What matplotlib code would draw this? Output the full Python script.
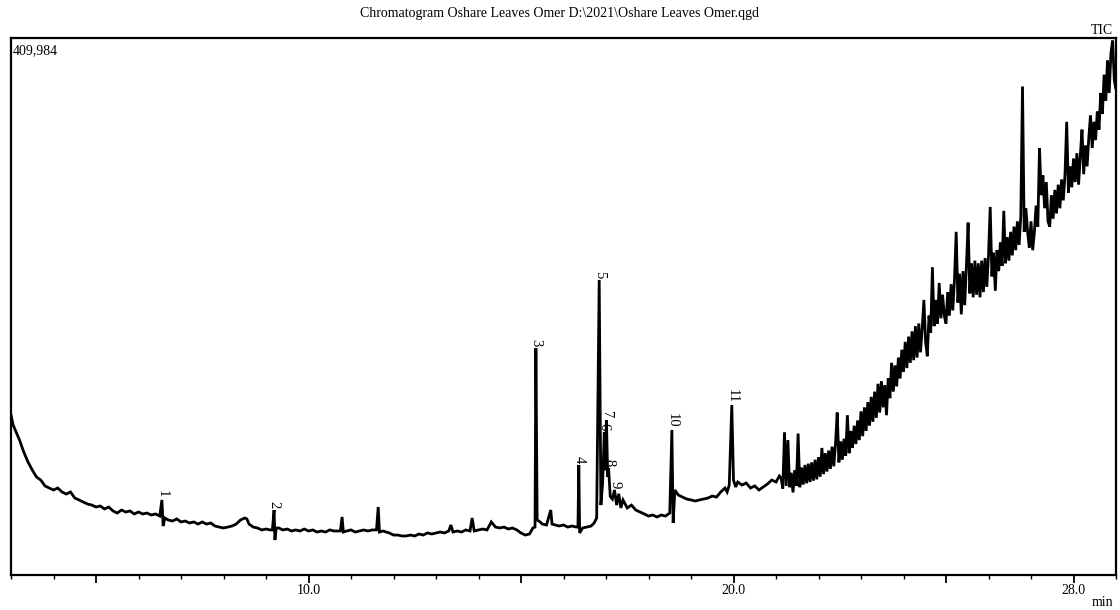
import matplotlib
matplotlib.use("Agg")
import matplotlib.pyplot as plt
from matplotlib.ticker import FixedLocator, MultipleLocator

plt.rcParams['font.family'] = ['Liberation Serif', 'DejaVu Serif']

TITLE = "Chromatogram Oshare Leaves Omer D:\\2021\\Oshare Leaves Omer.qgd"
MAX_COUNTS = 409984

# retention time (min) and TIC intensity (x1000 counts)
rt_min = [
    3.00, 3.05, 3.10, 3.20, 3.30, 3.40, 3.50, 3.60, 3.70, 3.80, 3.90, 4.00,
    4.10, 4.20, 4.30, 4.40, 4.50, 4.60, 4.70, 4.80, 4.90, 5.00, 5.10, 5.20,
    5.30, 5.40, 5.50, 5.60, 5.70, 5.80, 5.90, 6.00, 6.10, 6.20, 6.30, 6.40,
    6.50, 6.55, 6.58, 6.62, 6.70, 6.80, 6.90, 7.00, 7.10, 7.20, 7.30, 7.40,
    7.50, 7.60, 7.70, 7.80, 7.90, 8.00, 8.10, 8.20, 8.30, 8.35, 8.40, 8.50,
    8.55, 8.60, 8.70, 8.80, 8.90, 9.00, 9.10, 9.15, 9.19, 9.21, 9.24, 9.30,
    9.40, 9.50, 9.60, 9.70, 9.80, 9.90, 10.00, 10.10, 10.20, 10.30, 10.40,
    10.50, 10.60, 10.75, 10.79, 10.82, 10.90, 11.00, 11.10, 11.20, 11.30,
    11.40, 11.50, 11.60, 11.64, 11.67, 11.75, 11.90, 12.00, 12.10, 12.20,
    12.30, 12.40, 12.50, 12.60, 12.70, 12.80, 12.90, 13.00, 13.10, 13.20,
    13.30, 13.35, 13.40, 13.50, 13.60, 13.70, 13.80, 13.85, 13.90, 14.00,
    14.10, 14.20, 14.30, 14.40, 14.50, 14.60, 14.70, 14.80, 14.90, 15.00,
    15.10, 15.20, 15.28, 15.33, 15.35, 15.38, 15.45, 15.50, 15.60, 15.70,
    15.73, 15.80, 15.90, 16.00, 16.10, 16.20, 16.30, 16.34, 16.36, 16.38,
    16.45, 16.55, 16.65, 16.72, 16.78, 16.84, 16.88, 16.92, 16.96, 16.98,
    17.01, 17.04, 17.06, 17.10, 17.15, 17.20, 17.25, 17.30, 17.35, 17.40,
    17.50, 17.60, 17.70, 17.80, 17.90, 18.00, 18.10, 18.20, 18.30, 18.40,
    18.50, 18.55, 18.58, 18.62, 18.70, 18.80, 18.90, 19.00, 19.10, 19.20,
    19.30, 19.40, 19.50, 19.60, 19.70, 19.80, 19.85, 19.90, 19.96, 20.00,
    20.05, 20.10, 20.20, 20.30, 20.40, 20.50, 20.60, 20.70, 20.80, 20.90,
    21.00, 21.08,
    21.12, 21.16, 21.20, 21.24, 21.28, 21.32, 21.36, 21.40, 21.44, 21.48,
    21.52, 21.56, 21.60, 21.64, 21.68, 21.72, 21.76, 21.80, 21.84, 21.88,
    21.92, 21.96, 22.00, 22.04, 22.08, 22.12, 22.16, 22.20, 22.24, 22.28,
    22.32, 22.36, 22.40, 22.44, 22.48, 22.52, 22.56, 22.60, 22.64, 22.68,
    22.72, 22.76, 22.80, 22.84, 22.88, 22.92, 22.96, 23.00, 23.04, 23.08,
    23.12, 23.16, 23.20, 23.24, 23.28, 23.32, 23.36, 23.40, 23.44, 23.48,
    23.52, 23.56, 23.60, 23.64, 23.68, 23.72, 23.76, 23.80, 23.84, 23.88,
    23.92, 23.96, 24.00, 24.04, 24.08, 24.12, 24.16, 24.20, 24.24, 24.28,
    24.32, 24.36, 24.40, 24.44, 24.48, 24.52, 24.56, 24.60, 24.64, 24.68,
    24.72, 24.76, 24.80, 24.84, 24.88, 24.92, 24.96, 25.00, 25.04, 25.08,
    25.12, 25.16, 25.20, 25.24, 25.28, 25.32, 25.36, 25.40, 25.44, 25.48,
    25.52, 25.56, 25.60, 25.64, 25.68, 25.72, 25.76, 25.80, 25.84, 25.88,
    25.92, 25.96, 26.00, 26.04, 26.08, 26.12, 26.16, 26.20, 26.24, 26.28,
    26.32, 26.36, 26.40, 26.44, 26.48, 26.52, 26.56, 26.60, 26.64, 26.68,
    26.72, 26.76, 26.80, 26.84, 26.88, 26.92, 26.96, 27.00, 27.04, 27.08,
    27.12, 27.16, 27.20, 27.24, 27.28, 27.32, 27.36, 27.40, 27.44, 27.48,
    27.52, 27.56, 27.60, 27.64, 27.68, 27.72, 27.76, 27.80, 27.84, 27.88,
    27.92, 27.96, 28.00, 28.04, 28.08, 28.12, 28.16, 28.20, 28.24, 28.28,
    28.32, 28.36, 28.40, 28.44, 28.48, 28.52, 28.56, 28.60, 28.64, 28.68,
    28.72, 28.76, 28.80, 28.84, 28.88, 28.92, 28.96, 28.99,
]
tic_k = [
    122.2, 114.5, 110.7, 103.1, 93.9, 86.3, 80.2, 74.8, 72.5, 68.0, 66.4, 64.9,
    66.4, 63.4, 61.8, 63.4, 58.8, 57.3, 55.7, 54.2, 53.4, 51.9, 52.7, 50.4,
    51.9, 48.9, 47.3, 49.6, 48.1, 48.9, 46.6, 48.1, 46.6, 47.3, 45.8, 46.6,
    45.0, 57.3, 37.4, 43.5, 42.0, 41.2, 42.8, 40.5, 41.2, 39.7, 40.5, 38.9,
    40.5, 38.9, 39.7, 37.4, 36.6, 35.9, 36.6, 37.4, 38.9, 40.5, 42.0, 43.5,
    42.8, 38.9, 36.6, 35.9, 34.4, 35.1, 34.4, 34.4, 49.6, 26.7, 35.9, 35.9,
    34.4, 35.1, 33.6, 34.4, 33.6, 35.1, 33.6, 34.4, 32.8, 33.6, 32.8,
    34.4, 33.6, 33.6, 44.3, 32.8, 33.6, 34.4, 32.8, 33.6, 34.4,
    33.6, 34.4, 34.4, 51.9, 32.8, 33.6, 32.1, 30.5, 30.5, 29.8,
    29.8, 30.5, 29.8, 31.3, 30.5, 32.1, 31.3, 32.1, 32.8, 32.1,
    33.6, 38.2, 32.8, 33.6, 32.8, 34.4, 33.6, 43.5, 33.6, 34.4,
    35.1, 34.4, 40.5, 36.6, 35.9, 36.6, 35.1, 35.9, 34.4, 32.1,
    30.5, 31.3, 35.9, 36.6, 173.3, 42.0, 40.5, 38.9, 38.2, 49.6,
    38.9, 38.2, 37.4, 38.2, 36.6, 37.4, 36.6, 36.6, 84.0, 32.1,
    35.9, 36.6, 37.4, 39.7, 43.5, 225.2, 53.4, 70.0, 109.2, 80.0,
    118.3, 75.0, 81.7, 60.0, 58.0, 64.9, 53.4, 62.0, 51.2, 57.3,
    51.2, 53.4, 49.6, 48.1, 46.6, 45.0, 45.8, 44.3, 45.8, 45.0,
    47.3, 110.7, 39.7, 64.9, 61.1, 59.5, 58.0, 57.3, 56.5, 57.3,
    58.0, 58.8, 60.3, 59.5, 63.4, 66.4, 63.4, 68.7, 129.8, 72.5,
    67.2, 71.0, 68.7, 70.2, 66.4, 68.0, 64.9, 67.2, 69.5, 72.5,
    71.0, 75.6,
    74, 66, 109, 68, 103, 67, 78, 63, 80, 68,
    108, 67, 82, 69, 84, 70, 85, 71, 86, 72,
    88, 73, 90, 75, 97, 77, 93, 79, 95, 81,
    98, 83, 100, 124, 86, 102, 88, 104, 91, 122,
    93, 110, 97, 114, 100, 118, 103, 125, 106, 128,
    110, 132, 114, 136, 117, 140, 120, 146, 124, 148,
    128, 145, 122, 150, 135, 162, 140, 160, 144, 166,
    150, 172, 155, 178, 158, 182, 162, 186, 164, 190,
    166, 192, 170, 188, 210, 178, 167, 198, 185, 235,
    190, 210, 192, 223, 196, 214, 198, 192, 216, 198,
    222, 202, 226, 262, 208, 230, 199, 232, 206, 236,
    269, 215, 238, 212, 240, 214, 238, 212, 240, 216,
    242, 220, 244, 281, 228, 246, 217, 248, 232, 254,
    236, 278, 238, 258, 240, 262, 244, 266, 248, 270,
    252, 274, 373, 262, 280, 262, 250, 270, 248, 262,
    282, 266, 326, 290, 305, 280, 300, 270, 266, 290,
    272, 294, 276, 298, 280, 302, 286, 306, 346, 292,
    312, 296, 318, 300, 322, 298, 320, 340, 306, 328,
    312, 334, 351, 326, 346, 332, 354, 340, 368, 352,
    382, 362, 393, 368, 398, 408, 378, 372,
]

# labelled peaks
peak_no = [1, 2, 3, 4, 5, 6, 7, 8, 9, 10, 11]
peak_rt = [6.55, 9.19, 15.35, 16.36, 16.84, 16.96, 17.01, 17.06, 17.20, 18.55, 19.96]
peak_top_k = [57.3, 49.6, 173.3, 84.0, 225.2, 109.2, 118.3, 81.7, 64.9, 110.7, 129.8]

tic = [v * 1000 for v in tic_k]
peak_top = [v * 1000 for v in peak_top_k]

fig = plt.figure(figsize=(11.2, 6.1), dpi=100)
ax = fig.add_axes([11 / 1120, 35 / 610, 1105 / 1120, 537 / 610])

ax.plot(rt_min, tic, color="black", lw=2.0, solid_joinstyle="miter")

for n, t, h in zip(peak_no, peak_rt, peak_top):
    ax.annotate(str(n), xy=(t, h), xytext=(0, 1.5), textcoords="offset points",
                rotation=-90, ha="center", va="bottom", fontsize=10.5)

ax.set_xlim(3.0, 29.0)
ax.set_ylim(0, MAX_COUNTS)

# axis decoration like the instrument printout
ax.xaxis.set_major_locator(FixedLocator([5, 10, 15, 20, 25, 28]))
ax.set_xticklabels(["", "10.0", "", "20.0", "", "28.0"])
ax.xaxis.set_minor_locator(MultipleLocator(1))
ax.tick_params(axis="x", which="major", direction="out", length=5.5, width=1.3,
               pad=1, labelsize=10)
ax.tick_params(axis="x", which="minor", direction="out", length=3, width=1.0)
ax.set_yticks([])
for s in ax.spines.values():
    s.set_linewidth(1.6)
    s.set_color("black")

ax.text(0.002, 0.988, "{:,}".format(MAX_COUNTS), transform=ax.transAxes,
        ha="left", va="top", fontsize=10)
fig.text(0.5, 1 - 14 / 610, TITLE, ha="center", va="center", fontsize=10)
fig.text(1113 / 1120, 1 - 31 / 610, "TIC", ha="right", va="center", fontsize=10)
fig.text(1113 / 1120, 1 - 603 / 610, "min", ha="right", va="center", fontsize=10)

fig.savefig("out.png", dpi=100)
